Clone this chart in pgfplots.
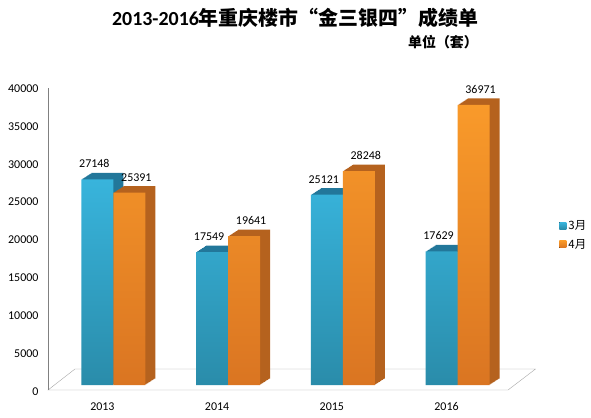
\documentclass[border=0pt]{standalone}
\usepackage{pgfplots}
\pgfplotsset{compat=1.18}
\usepackage{fontspec}
\setmainfont{Carlito}
\newfontfamily\cjk{Noto Sans CJK SC}
\definecolor{bluetop}{HTML}{38B4DC}
\definecolor{bluebot}{HTML}{2A8CAA}
\definecolor{blueside}{HTML}{22779A}
\definecolor{orgtop}{HTML}{F99A2A}
\definecolor{orgbot}{HTML}{DA7522}
\definecolor{orgside}{HTML}{B5621E}
\pgfplotstableread{
x march april
0 27148 25391
1 17549 19641
2 25121 28248
3 17629 36971
}\datatable
\pgfplotsset{
  sideM/.style={forget plot, fill=blueside, draw=none, bar shift=-16bp, xshift=#1*1bp, yshift=#1*0.65bp, nodes near coords={}},
  sideA/.style={forget plot, fill=orgside, draw=none, bar shift=16bp, xshift=#1*1bp, yshift=#1*0.65bp, nodes near coords={}},
}
\begin{document}
\begin{tikzpicture}[x=1bp,y=1bp]
\useasboundingbox (0,0) rectangle (591,417);
\node[font=\fontsize{20}{22}\selectfont\bfseries] at (295,399) {2013-2016{\cjk 年重庆楼市“金三银四”成绩单}};
\node[font=\fontsize{14}{16}\selectfont\bfseries\cjk] at (443,375) {单位（套）};
\begin{axis}[
  at={(48bp,32bp)}, anchor=south west,
  scale only axis, width=460bp, height=303bp,
  xmin=-0.57, xmax=3.44, ymin=0, ymax=40000,
  clip=false,
  axis line style={draw=none},
  tick style={draw=none},
  xtick={0,1,2,3}, xticklabels={2013,2014,2015,2016},
  ytick={0,5000,...,40000},
  scaled y ticks=false,
  /pgf/number format/1000 sep={},
  /pgf/number format/assume math mode=true,
  tick label style={font=\fontsize{12}{13}\selectfont},
  xticklabel style={xshift=-11bp, yshift=-10bp, text height=8bp, text depth=0bp},
  yticklabel style={xshift=-6bp, yshift=-6.5bp},
  ybar, bar width=32bp,
  legend style={at={(1.105,0.495)}, anchor=west, draw=none, fill=none,
    font=\fontsize{11.5}{12}\selectfont\cjk, row sep=4bp,
    /tikz/every even column/.append style={column sep=1bp}},
  legend cell align=left,
  legend image code/.code={\fill[#1] (0bp,-3.5bp) rectangle (7bp,3.5bp);},
  nodes near coords,
  nodes near coords style={font=\fontsize{12}{13}\selectfont, anchor=south, yshift=8bp, /pgf/number format/assume math mode=true},
]
\draw[gray!70, fill=white] (axis cs:-0.57,-660) -- (axis cs:-0.335,2112) -- (axis cs:3.68,2112) -- (axis cs:3.44,-660) -- cycle;
\draw[gray] (axis cs:-0.57,-660) -- (axis cs:-0.57,39200);
% march: side/top faces
\addplot[sideM=1] table[x=x,y=march]{\datatable};
\addplot[sideM=2] table[x=x,y=march]{\datatable};
\addplot[sideM=3] table[x=x,y=march]{\datatable};
\addplot[sideM=4] table[x=x,y=march]{\datatable};
\addplot[sideM=5] table[x=x,y=march]{\datatable};
\addplot[sideM=6] table[x=x,y=march]{\datatable};
\addplot[sideM=7] table[x=x,y=march]{\datatable};
\addplot[sideM=8] table[x=x,y=march]{\datatable};
\addplot[sideM=9] table[x=x,y=march]{\datatable};
\addplot[sideM=10] table[x=x,y=march]{\datatable};
\addplot[top color=bluetop, bottom color=bluebot, draw=none, bar shift=-16bp,
  nodes near coords style={xshift=-3bp}] table[x=x,y=march]{\datatable};
% april
\addplot[sideA=1] table[x=x,y=april]{\datatable};
\addplot[sideA=2] table[x=x,y=april]{\datatable};
\addplot[sideA=3] table[x=x,y=april]{\datatable};
\addplot[sideA=4] table[x=x,y=april]{\datatable};
\addplot[sideA=5] table[x=x,y=april]{\datatable};
\addplot[sideA=6] table[x=x,y=april]{\datatable};
\addplot[sideA=7] table[x=x,y=april]{\datatable};
\addplot[sideA=8] table[x=x,y=april]{\datatable};
\addplot[sideA=9] table[x=x,y=april]{\datatable};
\addplot[sideA=10] table[x=x,y=april]{\datatable};
\addplot[top color=orgtop, bottom color=orgbot, draw=none, bar shift=16bp,
  nodes near coords style={xshift=7bp}] table[x=x,y=april]{\datatable};
\legend{3月,4月}
\end{axis}
\end{tikzpicture}
\end{document}
